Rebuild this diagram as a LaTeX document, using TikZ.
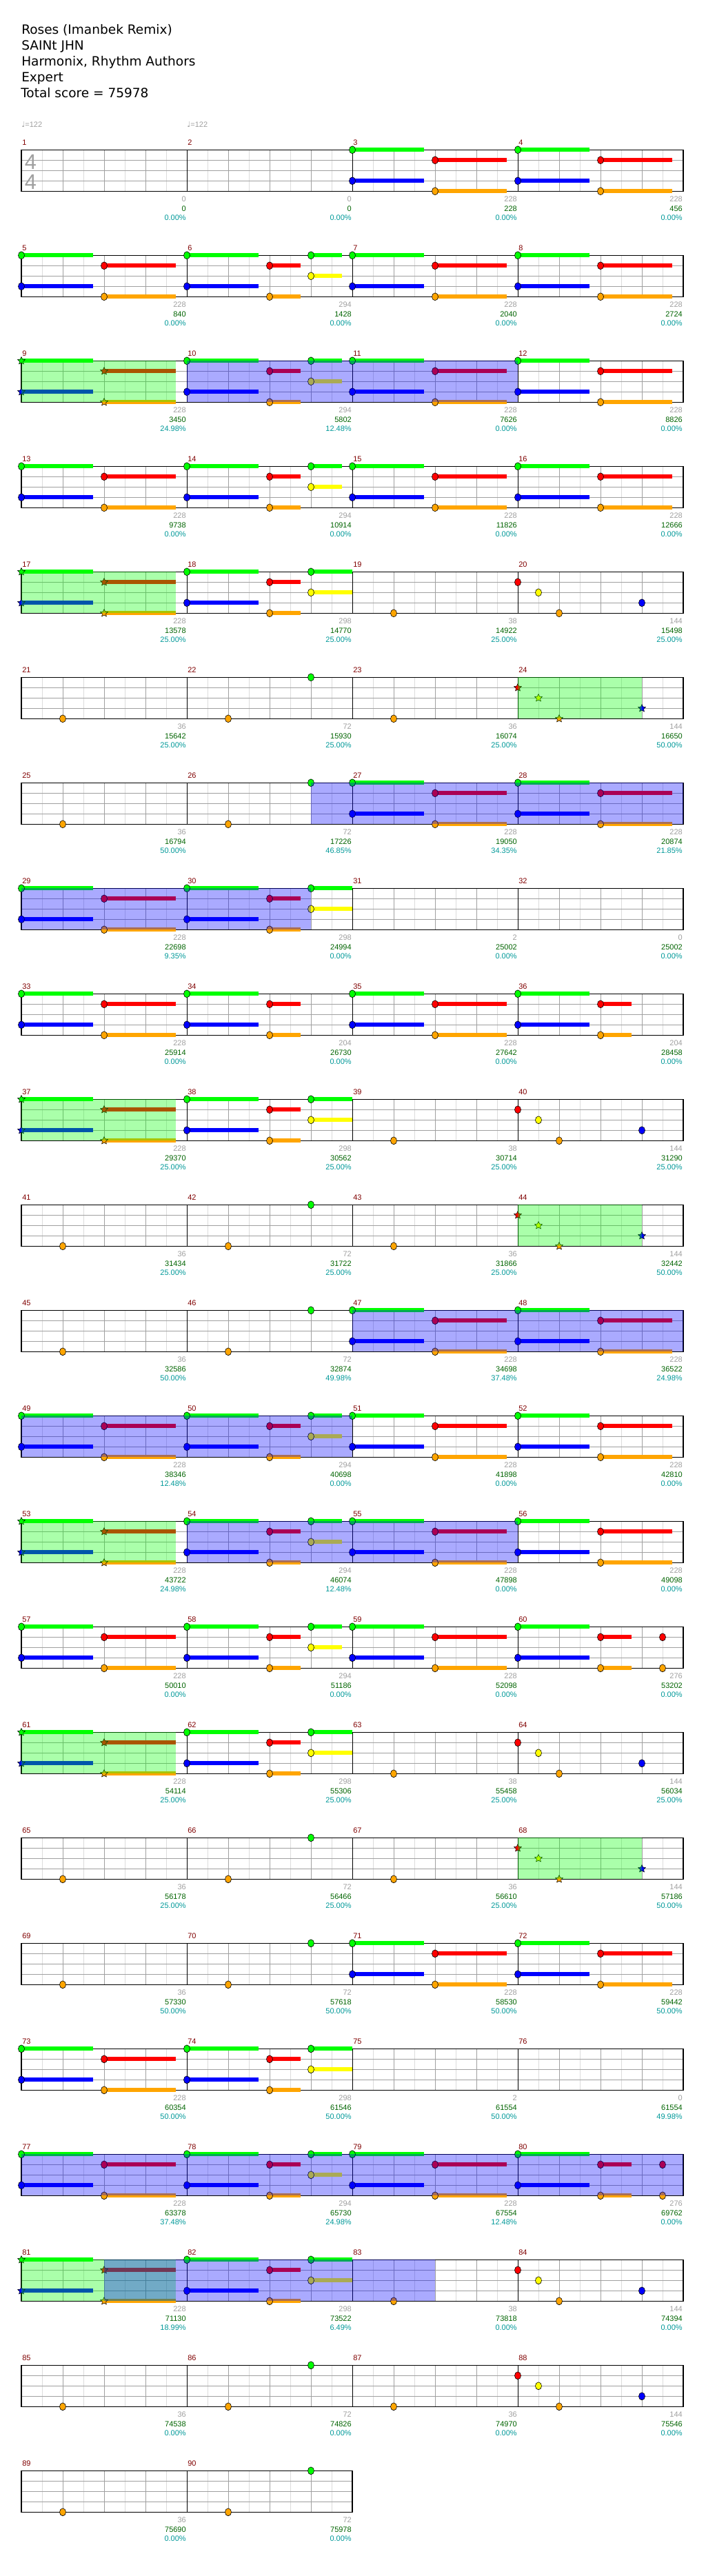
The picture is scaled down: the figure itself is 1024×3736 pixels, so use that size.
\documentclass[tikz,border=0pt]{standalone}
\usepackage{fontspec}
\setmainfont{DejaVu Sans}
\newfontfamily\numfont{Liberation Sans}
\newfontfamily\symfont{DejaVu Sans}
\usetikzlibrary{shapes.geometric}

\definecolor{gemgreen}{HTML}{00FF00}
\definecolor{gemred}{HTML}{FF0000}
\definecolor{gemyellow}{HTML}{FFFF00}
\definecolor{gemblue}{HTML}{0000FF}
\definecolor{gemorange}{HTML}{FFA500}
\definecolor{lightgrid}{HTML}{DCDCDC}
\definecolor{midgrid}{HTML}{A0A0A0}
\definecolor{mnumred}{HTML}{800000}
\definecolor{scoregray}{HTML}{A0A0A0}
\definecolor{scoregreen}{HTML}{006400}
\definecolor{scoreteal}{HTML}{009999}

% position of measure #1: \mx = left edge, \my = top line
\newcommand{\setMeasure}[1]{%
  \pgfmathtruncatemacro\mrow{(#1-1)/4}%
  \pgfmathtruncatemacro\mcol{#1-1-4*\mrow}%
  \pgfmathsetmacro\mx{31+240*\mcol}%
  \pgfmathsetmacro\my{217.3+153*\mrow}}
% beat, lane, colour
\newcommand{\gemAt}[3]{\draw[gemdot, fill=#3] (\mx+60*#1, \my+15*#2) ellipse [x radius=3.4pt, y radius=4.1pt];}
% start beat, end beat, lane, colour
\newcommand{\susBar}[4]{\fill[#4] (\mx+60*#1, \my+15*#3-3) rectangle (\mx+60*#2, \my+15*#3+3);}
% measure, beat, lane, colour
\newcommand{\starAt}[4]{\node[stargem, fill=#4] (star#1-#3) at (\mx+60*#2, \my+15*#3) {};}

% note patterns
\newcommand{\patA}[1]{\setMeasure{#1}%
  \susBar{0}{1.733}{0}{gemgreen}\susBar{0}{1.733}{3}{gemblue}%
  \susBar{2}{3.733}{1}{gemred}\susBar{2}{3.733}{4}{gemorange}%
  \gemAt{0}{0}{gemgreen}\gemAt{0}{3}{gemblue}\gemAt{2}{1}{gemred}\gemAt{2}{4}{gemorange}}
\newcommand{\patC}[1]{\setMeasure{#1}%
  \susBar{0}{1.733}{0}{gemgreen}\susBar{0}{1.733}{3}{gemblue}%
  \susBar{2}{2.75}{1}{gemred}\susBar{2}{2.75}{4}{gemorange}%
  \gemAt{0}{0}{gemgreen}\gemAt{0}{3}{gemblue}\gemAt{2}{1}{gemred}\gemAt{2}{4}{gemorange}}
\newcommand{\patB}[1]{\patC{#1}%
  \susBar{3}{3.75}{0}{gemgreen}\susBar{3}{3.75}{2}{gemyellow}%
  \gemAt{3}{0}{gemgreen}\gemAt{3}{2}{gemyellow}}
\newcommand{\patP}[1]{\patC{#1}%
  \susBar{3}{4}{0}{gemgreen}\susBar{3}{4}{2}{gemyellow}%
  \gemAt{3}{0}{gemgreen}\gemAt{3}{2}{gemyellow}}
\newcommand{\patD}[1]{\patC{#1}\gemAt{3.5}{1}{gemred}\gemAt{3.5}{4}{gemorange}}
\newcommand{\patO}[1]{\setMeasure{#1}\gemAt{1}{4}{gemorange}}
\newcommand{\patQ}[1]{\patO{#1}\gemAt{3}{0}{gemgreen}}
\newcommand{\patR}[1]{\setMeasure{#1}%
  \gemAt{0}{1}{gemred}\gemAt{0.5}{2}{gemyellow}\gemAt{1}{4}{gemorange}\gemAt{3}{3}{gemblue}}
\newcommand{\patS}[1]{\setMeasure{#1}%
  \susBar{0}{1.733}{0}{gemgreen}\susBar{0}{1.733}{3}{gemblue}%
  \susBar{2}{3.733}{1}{gemred}\susBar{2}{3.733}{4}{gemorange}%
  \starAt{#1}{0}{0}{gemgreen}\starAt{#1}{0}{3}{gemblue}\starAt{#1}{2}{1}{gemred}\starAt{#1}{2}{4}{gemorange}}
\newcommand{\patT}[1]{\setMeasure{#1}%
  \starAt{#1}{0}{1}{gemred}\starAt{#1}{0.5}{2}{gemyellow}\starAt{#1}{1}{4}{gemorange}\starAt{#1}{3}{3}{gemblue}}

% staff of row #1 with #2 measures
\newcommand{\staffRow}[2]{%
  \pgfmathsetmacro\ry{217.3+153*#1}%
  \pgfmathtruncatemacro\nlast{8*#2-1}%
  \pgfmathtruncatemacro\qlast{8*#2-2}%
  \foreach \k in {1,3,...,\nlast} {\draw[eighthline] (31+30*\k, \ry) -- ++(0,60);}
  \foreach \k in {2,4,...,\qlast} {\draw[quarterline] (31+30*\k, \ry) -- ++(0,60);}
  \foreach \l in {1,2,3} {\draw[quarterline] (31, \ry+15*\l) -- ++(240*#2,0);}
  \foreach \b in {2,...,#2} {\draw[barline] (31+240*\b-240, \ry) -- ++(0,60);}
  \draw[staffbox] (31, \ry) rectangle ++(240*#2, 60);}
% colour, measure, from beat, to beat
\newcommand{\odZone}[4]{\setMeasure{#2}\fill[#1, fill opacity=0.333] (\mx+60*#3, \my) rectangle (\mx+60*#4, \my+60);}

\begin{document}
\begin{tikzpicture}[x=0.75pt, y=-0.75pt,
    staffbox/.style={draw=black, line width=0.9pt},
    barline/.style={draw=black, line width=0.75pt},
    eighthline/.style={draw=lightgrid, line width=0.75pt},
    quarterline/.style={draw=midgrid, line width=0.75pt},
    gemdot/.style={draw=black, line width=0.45pt},
    stargem/.style={star, star points=5, star point ratio=2.1, minimum size=8.6pt, inner sep=0pt, draw=black, line width=0.4pt},
    titleline/.style={anchor=base west, inner sep=0pt, font=\fontsize{13.9}{16}\selectfont},
    small/.style={inner sep=0pt, font=\numfont\fontsize{8.25}{10}\selectfont},
    mnum/.style={small, anchor=base west, text=mnumred},
    gval/.style={small, anchor=base east, text=scoregray},
    cval/.style={small, anchor=base east, text=scoregreen},
    pval/.style={small, anchor=base east, text=scoreteal},
    timesig/.style={anchor=base, inner sep=0pt, text=midgrid, font=\numfont\fontsize{23}{23}\selectfont}
  ]
  \fill[white] (0,0) rectangle (1024,3736);
  \useasboundingbox (0,0) rectangle (1024,3736);

  % header
  \node[titleline] (song) at (31,49.3) {Roses (Imanbek Remix)};
  \node[titleline] (artist) at (31,72.3) {SAINt JHN};
  \node[titleline] (charter) at (31,95.3) {Harmonix, Rhythm Authors};
  \node[titleline] (level) at (31,118.3) {Expert};
  \node[titleline] (total) at (30,141.3) {Total score = 75978};
  \node[small, anchor=base west, text=scoregray] (tempo1) at (31,184.5) {{\symfont ♩}=122};
  \node[small, anchor=base west, text=scoregray] (tempo2) at (271,184.5) {{\symfont ♩}=122};

  % staves
  \foreach \r in {0,...,21} {\staffRow{\r}{4}}
  \staffRow{22}{2}
  \node[timesig] (sigtop) at (44.5,245) {4};
  \node[timesig] (sigbot) at (44.5,274) {4};

  % notes
  \foreach \m/\t in {3/A,4/A,5/A,6/B,7/A,8/A,9/S,10/B,11/A,12/A,13/A,14/B,15/A,16/A,
      17/S,18/P,19/O,20/R,21/O,22/Q,23/O,24/T,25/O,26/Q,27/A,28/A,29/A,30/P,
      33/A,34/C,35/A,36/C,37/S,38/P,39/O,40/R,41/O,42/Q,43/O,44/T,45/O,46/Q,
      47/A,48/A,49/A,50/B,51/A,52/A,53/S,54/B,55/A,56/A,57/A,58/B,59/A,60/D,
      61/S,62/P,63/O,64/R,65/O,66/Q,67/O,68/T,69/O,70/Q,71/A,72/A,73/A,74/P,
      77/A,78/B,79/A,80/D,81/S,82/P,83/O,84/R,85/O,86/Q,87/O,88/R,89/O,90/Q}
    {\csname pat\t\endcsname{\m}}

  % star power and overdrive
  \foreach \m/\b in {9/3.733,17/3.733,24/3,37/3.733,44/3,53/3.733,61/3.733,68/3,81/3.733}
    {\odZone{gemgreen}{\m}{0}{\b}}
  \foreach \m/\a/\b in {10/0/8,26/3/12,29/0/7,47/0/8,49/0/8,54/0/8,77/0/16,81/2/10}
    {\odZone{gemblue}{\m}{\a}{\b}}

  % measure numbers and scores
  \foreach \m/\g/\c/\p in {1/0/0/0.00,2/0/0/0.00,3/228/228/0.00,4/228/456/0.00,
      5/228/840/0.00,6/294/1428/0.00,7/228/2040/0.00,8/228/2724/0.00,
      9/228/3450/24.98,10/294/5802/12.48,11/228/7626/0.00,12/228/8826/0.00,
      13/228/9738/0.00,14/294/10914/0.00,15/228/11826/0.00,16/228/12666/0.00,
      17/228/13578/25.00,18/298/14770/25.00,19/38/14922/25.00,20/144/15498/25.00,
      21/36/15642/25.00,22/72/15930/25.00,23/36/16074/25.00,24/144/16650/50.00,
      25/36/16794/50.00,26/72/17226/46.85,27/228/19050/34.35,28/228/20874/21.85,
      29/228/22698/9.35,30/298/24994/0.00,31/2/25002/0.00,32/0/25002/0.00,
      33/228/25914/0.00,34/204/26730/0.00,35/228/27642/0.00,36/204/28458/0.00,
      37/228/29370/25.00,38/298/30562/25.00,39/38/30714/25.00,40/144/31290/25.00,
      41/36/31434/25.00,42/72/31722/25.00,43/36/31866/25.00,44/144/32442/50.00,
      45/36/32586/50.00,46/72/32874/49.98,47/228/34698/37.48,48/228/36522/24.98,
      49/228/38346/12.48,50/294/40698/0.00,51/228/41898/0.00,52/228/42810/0.00,
      53/228/43722/24.98,54/294/46074/12.48,55/228/47898/0.00,56/228/49098/0.00,
      57/228/50010/0.00,58/294/51186/0.00,59/228/52098/0.00,60/276/53202/0.00,
      61/228/54114/25.00,62/298/55306/25.00,63/38/55458/25.00,64/144/56034/25.00,
      65/36/56178/25.00,66/72/56466/25.00,67/36/56610/25.00,68/144/57186/50.00,
      69/36/57330/50.00,70/72/57618/50.00,71/228/58530/50.00,72/228/59442/50.00,
      73/228/60354/50.00,74/298/61546/50.00,75/2/61554/50.00,76/0/61554/49.98,
      77/228/63378/37.48,78/294/65730/24.98,79/228/67554/12.48,80/276/69762/0.00,
      81/228/71130/18.99,82/298/73522/6.49,83/38/73818/0.00,84/144/74394/0.00,
      85/36/74538/0.00,86/72/74826/0.00,87/36/74970/0.00,88/144/75546/0.00,
      89/36/75690/0.00,90/72/75978/0.00}
  {
    \setMeasure{\m}
    \node[mnum] (num\m) at (\mx+1, \my-7.3) {\m};
    \node[gval] (base\m) at (\mx+239, \my+75.5) {\g};
    \node[cval] (cum\m) at (\mx+239, \my+89) {\c};
    \node[pval] (pct\m) at (\mx+239, \my+102.5) {\p\%};
  }
\end{tikzpicture}
\end{document}
